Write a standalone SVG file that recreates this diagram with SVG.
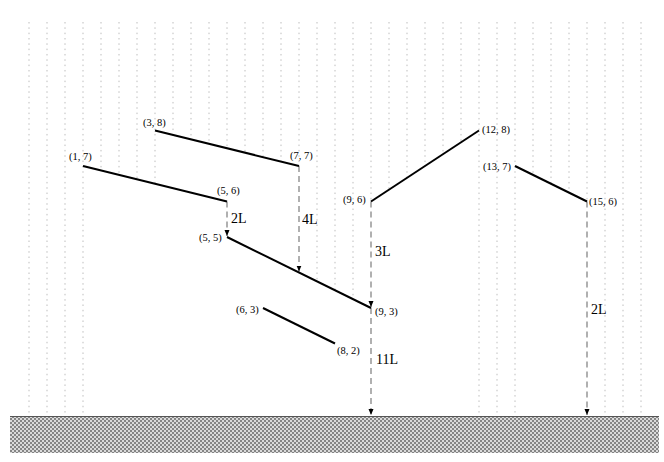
<svg xmlns="http://www.w3.org/2000/svg" width="664" height="462" viewBox="0 0 664 462">
<style>
.grid{stroke:#bdbdbd;stroke-width:1;stroke-dasharray:1.5 3.83;fill:none}
.beam{stroke:#000;stroke-width:2;fill:none}
.load{stroke:#b0b0b0;stroke-width:2;stroke-dasharray:6 4;fill:none}
.c{font-family:"Liberation Serif","Times New Roman",serif;font-size:10.5px;fill:#000}
.l{font-family:"Liberation Serif","Times New Roman",serif;font-size:14px;fill:#000}
</style>
<defs>
<marker id="ah" viewBox="0 0 6 6" refX="6" refY="3" markerWidth="6" markerHeight="6" markerUnits="userSpaceOnUse" orient="auto">
<path d="M0,0.5 L6,3 L0,5.5 Z" fill="#000"/>
</marker>
<pattern id="hatch" width="4" height="4" patternUnits="userSpaceOnUse">
<rect width="4" height="4" fill="#dadada"/>
<rect width="2" height="2" fill="#858585"/>
<rect x="2" y="2" width="2" height="2" fill="#858585"/>
</pattern>
</defs>
<g id="grid">
<line class="grid" x1="29" y1="22" x2="29" y2="413"/>
<line class="grid" x1="47" y1="22" x2="47" y2="413"/>
<line class="grid" x1="65" y1="22" x2="65" y2="413"/>
<line class="grid" x1="83" y1="22" x2="83" y2="413"/>
<line class="grid" x1="101" y1="22" x2="101" y2="170"/>
<line class="grid" x1="119" y1="22" x2="119" y2="175"/>
<line class="grid" x1="137" y1="22" x2="137" y2="179"/>
<line class="grid" x1="155" y1="22" x2="155" y2="183"/>
<line class="grid" x1="173" y1="22" x2="173" y2="135"/>
<line class="grid" x1="191" y1="22" x2="191" y2="139"/>
<line class="grid" x1="209" y1="22" x2="209" y2="143"/>
<line class="grid" x1="227" y1="22" x2="227" y2="148"/>
<line class="grid" x1="245" y1="22" x2="245" y2="152"/>
<line class="grid" x1="263" y1="22" x2="263" y2="157"/>
<line class="grid" x1="281" y1="22" x2="281" y2="161"/>
<line class="grid" x1="299" y1="22" x2="299" y2="166"/>
<line class="grid" x1="317" y1="22" x2="317" y2="281"/>
<line class="grid" x1="335" y1="22" x2="335" y2="290"/>
<line class="grid" x1="353" y1="22" x2="353" y2="299"/>
<line class="grid" x1="371" y1="22" x2="371" y2="201"/>
<line class="grid" x1="389" y1="22" x2="389" y2="189"/>
<line class="grid" x1="407" y1="22" x2="407" y2="178"/>
<line class="grid" x1="425" y1="22" x2="425" y2="166"/>
<line class="grid" x1="443" y1="22" x2="443" y2="154"/>
<line class="grid" x1="461" y1="22" x2="461" y2="142"/>
<line class="grid" x1="479" y1="22" x2="479" y2="413"/>
<line class="grid" x1="497" y1="22" x2="497" y2="413"/>
<line class="grid" x1="515" y1="22" x2="515" y2="413"/>
<line class="grid" x1="533" y1="22" x2="533" y2="175"/>
<line class="grid" x1="551" y1="22" x2="551" y2="183"/>
<line class="grid" x1="569" y1="22" x2="569" y2="192"/>
<line class="grid" x1="587" y1="22" x2="587" y2="201"/>
<line class="grid" x1="605" y1="22" x2="605" y2="413"/>
<line class="grid" x1="623" y1="22" x2="623" y2="413"/>
<line class="grid" x1="641" y1="22" x2="641" y2="413"/>
</g>
<g id="ground">
<rect x="10" y="416" width="649" height="37" fill="url(#hatch)"/>
<line x1="10" y1="416.5" x2="659" y2="416.5" stroke="#555" stroke-width="1"/>
</g>
<g id="connectors">
<line class="load" x1="227" y1="201.5" x2="227" y2="236" marker-end="url(#ah)"/>
<line class="load" x1="299" y1="166" x2="299" y2="271.5" marker-end="url(#ah)"/>
<line class="load" x1="371" y1="201.5" x2="371" y2="307" marker-end="url(#ah)"/>
<line class="load" x1="371" y1="308" x2="371" y2="415" marker-end="url(#ah)"/>
<line class="load" x1="587" y1="201.5" x2="587" y2="415" marker-end="url(#ah)"/>
<text class="l" x="231" y="223">2L</text>
<text class="l" x="302" y="224">4L</text>
<text class="l" x="375" y="256">3L</text>
<text class="l" x="376" y="364">11L</text>
<text class="l" x="591" y="314">2L</text>
</g>
<g id="beam-1-7_5-6">
<line class="beam" x1="83" y1="166" x2="227" y2="201.5"/>
<text class="c" x="69" y="160">(1, 7)</text>
<text class="c" x="217" y="194">(5, 6)</text>
</g>
<g id="beam-3-8_7-7">
<line class="beam" x1="155" y1="130.5" x2="299" y2="166"/>
<text class="c" x="143" y="126">(3, 8)</text>
<text class="c" x="290" y="159">(7, 7)</text>
</g>
<g id="beam-5-5_9-3">
<line class="beam" x1="227" y1="237" x2="371" y2="308"/>
<text class="c" x="199" y="241">(5, 5)</text>
<text class="c" x="375" y="315">(9, 3)</text>
</g>
<g id="beam-6-3_8-2">
<line class="beam" x1="263" y1="308" x2="335" y2="343.5"/>
<text class="c" x="236" y="313">(6, 3)</text>
<text class="c" x="337" y="354">(8, 2)</text>
</g>
<g id="beam-9-6_12-8">
<line class="beam" x1="371" y1="201.5" x2="479" y2="130.5"/>
<text class="c" x="343" y="203">(9, 6)</text>
<text class="c" x="482" y="133">(12, 8)</text>
</g>
<g id="beam-13-7_15-6">
<line class="beam" x1="515" y1="166" x2="587" y2="201.5"/>
<text class="c" x="483" y="170">(13, 7)</text>
<text class="c" x="589" y="205">(15, 6)</text>
</g>
</svg>
